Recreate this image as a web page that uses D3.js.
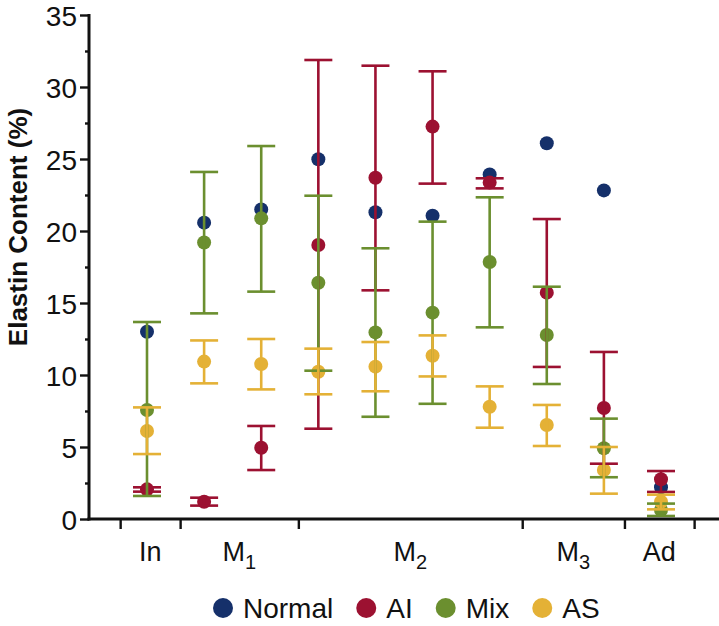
<!DOCTYPE html>
<html>
<head>
<meta charset="utf-8">
<script src="https://cdn.jsdelivr.net/npm/d3@7"></script>
<style>
  html, body { margin: 0; padding: 0; background: #fff; }
  svg { display: block; font-family: "Liberation Sans", Arial, Helvetica, sans-serif; }
</style>
</head>
<body>
<svg id="chart" width="719" height="626"></svg>
<script>
// ---- data ----
const samples = [1, 2, 3, 4, 5, 6, 7, 8, 9, 10];
const groupNames = ["In", "M", "M", "M", "Ad"];
const groupSubs = ["", "1", "2", "3", ""];
const groupBounds = [0.53, 1.58, 3.65, 7.57, 9.36, 10.58];
const yTicks = [0, 5, 10, 15, 20, 25, 30, 35];
const yMinorTicks = [2.5, 7.5, 12.5, 17.5, 22.5, 27.5, 32.5];

const seriesNames = ["Normal", "AI", "Mix", "AS"];
const seriesColors = ["#15306a", "#9c1131", "#6b8f2f", "#e4b136"];

const normalMean = [13.0, 20.58, 21.5, 24.98, 21.3, 21.06, 23.93, 26.09, 22.82, 2.2];

const aiMean = [2.06, 1.2, 4.95, 19.03, 23.7, 27.25, 23.36, 15.72, 7.71, 2.76];
const aiLow  = [1.9, 0.93, 3.4, 6.27, 15.88, 23.29, 22.96, 10.56, 3.84, 1.88];
const aiHigh = [2.2, 1.48, 6.46, 31.875, 31.48, 31.09, 23.66, 20.83, 11.6, 3.33];

const mixMean = [7.57, 19.2, 20.88, 16.41, 12.96, 14.33, 17.85, 12.78, 4.91, 0.62];
const mixLow  = [1.6, 14.28, 15.79, 10.3, 7.1, 8.0, 13.31, 9.375, 2.9, 0.21];
const mixHigh = [13.68, 24.1, 25.9, 22.45, 18.8, 20.65, 22.34, 16.13, 6.97, 1.07];

const asMean = [6.11, 10.93, 10.76, 10.23, 10.58, 11.34, 7.8, 6.53, 3.4, 1.2];
const asLow  = [4.51, 9.42, 9.0, 8.66, 8.87, 9.9, 6.34, 5.07, 1.76, 0.67];
const asHigh = [7.75, 12.4, 12.5, 11.83, 12.29, 12.75, 9.21, 7.92, 5.0, 1.69];

// ---- build series table ----
const series = [
  { name: "Normal", color: seriesColors[0], mean: normalMean, low: null, high: null },
  { name: "AI",     color: seriesColors[1], mean: aiMean,  low: aiLow,  high: aiHigh },
  { name: "Mix",    color: seriesColors[2], mean: mixMean, low: mixLow, high: mixHigh },
  { name: "AS",     color: seriesColors[3], mean: asMean,  low: asLow,  high: asHigh }
];

const svg = d3.select("#chart");
const x = d3.scaleLinear().domain([1, 10]).range([147, 661]);
const y = d3.scaleLinear().domain([0, 35]).range([519, 15]);
const axisX0 = 89, axisXEnd = 719;
const FONT = "'Liberation Sans', Arial, Helvetica, sans-serif";

// ---- dots ----
const dotR = 7;
series.forEach(s => {
  svg.append("g").selectAll("circle")
    .data(samples.map((d, i) => ({ pos: d, v: s.mean[i] })))
    .join("circle")
    .attr("cx", d => x(d.pos))
    .attr("cy", d => y(d.v))
    .attr("r", dotR)
    .attr("fill", s.color);
});

// ---- error bars ----
const capHalf = 14;
series.filter(s => s.low).forEach(s => {
  const g = svg.append("g").attr("stroke", s.color).attr("stroke-width", 2.6).attr("fill", "none");
  const data = samples.map((d, i) => ({ pos: d, lo: s.low[i], hi: s.high[i] }));
  g.selectAll("line.v").data(data).join("line").attr("class", "v")
    .attr("x1", d => x(d.pos)).attr("x2", d => x(d.pos))
    .attr("y1", d => y(d.lo)).attr("y2", d => y(d.hi));
  g.selectAll("line.hi").data(data).join("line").attr("class", "hi")
    .attr("x1", d => x(d.pos) - capHalf).attr("x2", d => x(d.pos) + capHalf)
    .attr("y1", d => y(d.hi)).attr("y2", d => y(d.hi));
  g.selectAll("line.lo").data(data).join("line").attr("class", "lo")
    .attr("x1", d => x(d.pos) - capHalf).attr("x2", d => x(d.pos) + capHalf)
    .attr("y1", d => y(d.lo)).attr("y2", d => y(d.lo));
});

// ---- y axis ----
const yAxis = d3.axisLeft(y).tickValues(yTicks).tickSize(9).tickSizeOuter(0).tickPadding(3)
  .tickFormat(d3.format("d"));
const gy = svg.append("g").attr("transform", `translate(${axisX0},0)`).call(yAxis);
gy.select(".domain").remove();
gy.selectAll(".tick line").attr("stroke", "#111").attr("stroke-width", 2.4);
gy.selectAll(".tick text").attr("font-size", 28).attr("fill", "#111")
  .attr("font-family", FONT).attr("dy", "0.36em");
const gyMinor = svg.append("g").attr("transform", `translate(${axisX0},0)`)
  .call(d3.axisLeft(y).tickValues(yMinorTicks).tickSize(4).tickFormat(""));
gyMinor.select(".domain").remove();
gyMinor.selectAll(".tick line").attr("stroke", "#111").attr("stroke-width", 2.4);
svg.append("line").attr("x1", axisX0).attr("x2", axisX0)
  .attr("y1", y(35) - 1).attr("y2", y(0) + 1.5)
  .attr("stroke", "#111").attr("stroke-width", 3);

// ---- x axis ----
const gx = svg.append("g").attr("transform", `translate(0,${y(0)})`)
  .call(d3.axisBottom(x).tickValues(groupBounds).tickSize(10).tickFormat(""));
gx.select(".domain").remove();
gx.selectAll(".tick line").attr("stroke", "#111").attr("stroke-width", 2.4);
svg.append("line").attr("x1", axisX0 - 1.5).attr("x2", axisXEnd)
  .attr("y1", y(0)).attr("y2", y(0))
  .attr("stroke", "#111").attr("stroke-width", 3);

// group labels
groupNames.forEach((name, i) => {
  const cx = (x(groupBounds[i]) + x(groupBounds[i + 1])) / 2;
  const t = svg.append("text")
    .attr("x", cx).attr("y", 561)
    .attr("text-anchor", "middle")
    .attr("font-size", 27).attr("fill", "#111");
  t.append("tspan").text(name);
  if (groupSubs[i]) {
    t.append("tspan").attr("font-size", 20).attr("dy", 8).text(groupSubs[i]);
  }
});

// y title
svg.append("text")
  .attr("transform", `translate(27,${(y(0) + y(35)) / 2 - 40}) rotate(-90)`)
  .attr("text-anchor", "middle")
  .attr("font-size", 26).attr("font-weight", "bold").attr("fill", "#111")
  .text("Elastin Content (%)");

// ---- legend ----
const legend = svg.append("g");
let lx = 0;
seriesNames.forEach((name, i) => {
  const g = legend.append("g");
  g.append("circle").attr("cx", 10).attr("cy", 0).attr("r", 10).attr("fill", seriesColors[i]);
  const t = g.append("text").attr("x", 30).attr("y", 10).attr("font-size", 28).attr("fill", "#111").text(name);
  const w = 30 + t.node().getComputedTextLength();
  g.attr("transform", `translate(${lx},0)`);
  lx += w + 23;
});
legend.attr("transform", `translate(213,608)`);
</script>
</body>
</html>
